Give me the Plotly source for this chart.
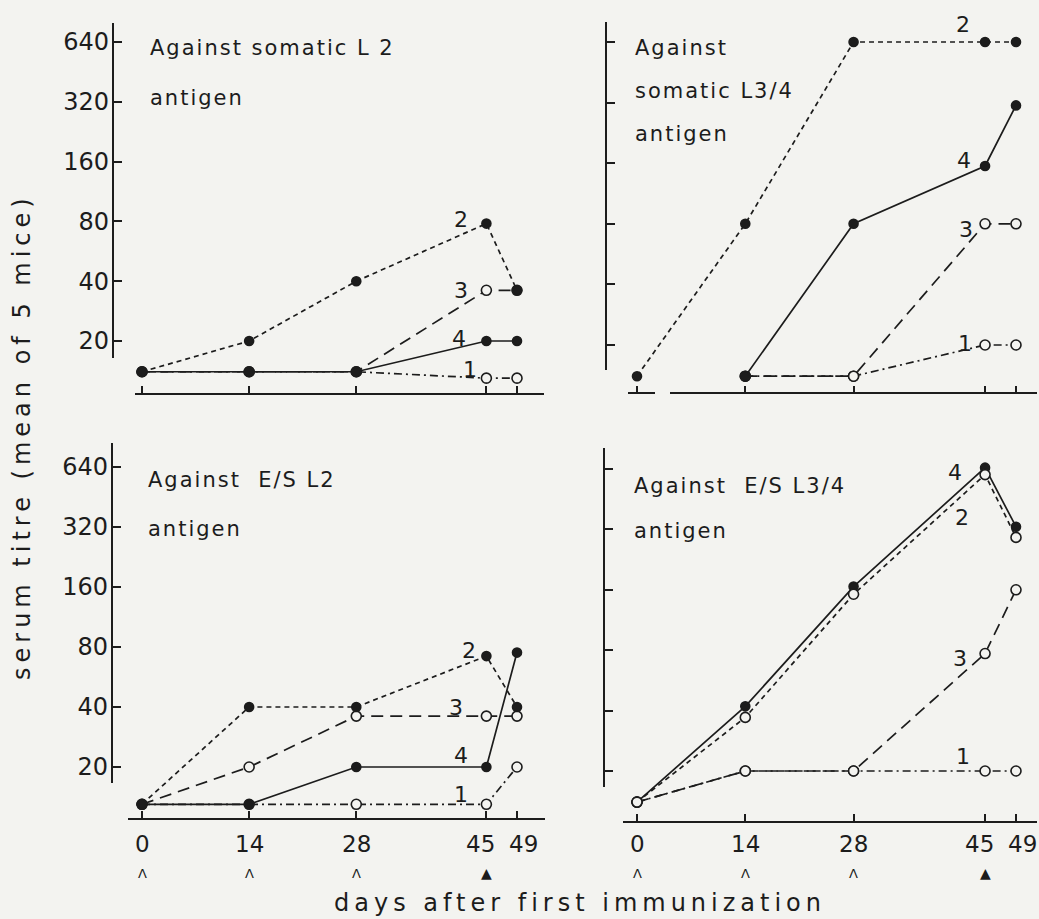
import math
import plotly.graph_objects as go

W, H = 1039, 919
BG = "#f3f3f0"
INK = "#1c1c1c"
FONT = "DejaVu Sans"

# ---------------- data ----------------
days = [0, 14, 28, 45, 49]
day_labels = ["0", "14", "28", "45", "49"]
ytick_vals = [20, 40, 80, 160, 320, 640]
ytick_text = ["20", "40", "80", "160", "320", "640"]
series_names = ["1", "2", "3", "4"]

# Against somatic L2 antigen
som_L2_s1 = [14, 14, 14, 13, 13]
som_L2_s2 = [14, 20, 40, 78, 36]
som_L2_s3 = [14, 14, 14, 36, 36]
som_L2_s4 = [14, 14, 14, 20, 20]

# Against somatic L3/4 antigen
som_L34_s1 = [None, 14, 14, 20, 20]
som_L34_s2 = [14, 80, 640, 640, 640]
som_L34_s3 = [None, 14, 14, 80, 80]
som_L34_s4 = [None, 14, 80, 155, 310]

# Against E/S L2 antigen
es_L2_s1 = [13, 13, 13, 13, 20]
es_L2_s2 = [13, 40, 40, 72, 40]
es_L2_s3 = [13, 20, 36, 36, 36]
es_L2_s4 = [13, 13, 20, 20, 75]

# Against E/S L3/4 antigen
es_L34_s1 = [14, 20, 20, 20, 20]
es_L34_s2 = [14, 37, 152, 600, 292]
es_L34_s3 = [14, 20, 20, 77, 160]
es_L34_s4 = [14, 42, 166, 650, 330]

immunization_days = [0, 14, 28]
challenge_days = [45]

title_som_L2 = ["Against somatic L 2", "antigen"]
title_som_L34 = ["Against", "somatic L3/4", "antigen"]
title_es_L2 = ["Against\u00a0\u00a0E/S L2", "antigen"]
title_es_L34 = ["Against\u00a0\u00a0E/S L3/4", "antigen"]

y_title = "serum titre (mean of 5 mice)"
x_title = "days after first immunization"

# small horizontal nudges (px) of the day labels so that "45" and "49" stay apart
day_label_shift = [0, 0, 0, -6, 6]


def spaced(text, px_):
    return "<span style='letter-spacing:%dpx'>%s</span>" % (px_, text)


# ---------------- geometry helpers (pixels -> paper) ----------------
def px(x):
    return x / W


def py(y):
    return 1 - y / H


def yrange(top, bot, p640, p20):
    k = (math.log10(640) - math.log10(20)) / (p20 - p640)
    return [math.log10(20) - (bot - p20) * k, math.log10(20) + (p20 - top) * k]


def xrange_(d0, d1, p0, p49):
    s = (p49 - p0) / 49.0
    return [-(p0 - d0) / s, 49 + (d1 - p49) / s]


panels = [
    dict(key="", series=[som_L2_s1, som_L2_s2, som_L2_s3, som_L2_s4],
         xdom=(135, 544), p0=142, p49=517, ydom=(23, 393), p640=42, p20=341,
         yline_x=113, yline=(23, 358), xlabels=False, yticklabels=True,
         title=title_som_L2, title_xy=(148, 48), title_dy=50,
         open2=False, xline_segments=None,
         labels=[(3, 1, -25, 4), (3, 2, -25, 0), (3, 3, -27, 3), (3, 0, -16, 9)]),
    dict(key="2", series=[som_L34_s1, som_L34_s2, som_L34_s3, som_L34_s4],
         xdom=(625, 1037), p0=637, p49=1016, ydom=(22, 393), p640=42, p20=345,
         yline_x=606, yline=(22, 370), xlabels=False, yticklabels=False,
         title=title_som_L34, title_xy=(633, 48), title_dy=43,
         open2=False, xline_segments=[(628, 655), (670, 1037)],
         labels=[(3, 1, -22, 18), (3, 3, -21, 5), (3, 2, -19, -6), (3, 0, -20, 2)]),
    dict(key="3", series=[es_L2_s1, es_L2_s2, es_L2_s3, es_L2_s4],
         xdom=(128, 545), p0=142, p49=517, ydom=(443, 818), p640=467, p20=767,
         yline_x=112, yline=(443, 783), xlabels=True, yticklabels=True,
         title=title_es_L2, title_xy=(146, 480), title_dy=49,
         open2=False, xline_segments=None,
         labels=[(3, 1, -17, 6), (3, 2, -30, 9), (3, 3, -25, 12), (3, 0, -25, 10)]),
    dict(key="4", series=[es_L34_s1, es_L34_s2, es_L34_s3, es_L34_s4],
         xdom=(623, 1037), p0=637, p49=1016, ydom=(448, 821), p640=469, p20=771,
         yline_x=604, yline=(448, 787), xlabels=True, yticklabels=False,
         title=title_es_L34, title_xy=(632, 486), title_dy=45,
         open2=True, xline_segments=None,
         labels=[(3, 3, -30, -5), (3, 1, -23, -43), (3, 2, -25, -5), (3, 0, -22, 15)]),
]

# series styles: 1 dash-dot open, 2 short dash filled, 3 long dash open, 4 solid filled
dash_styles = ["8px,4px,2px,4px", "5px,4px", "12px,7px", "solid"]
filled = [False, True, False, True]

fig = go.Figure()
layout = dict(
    width=W, height=H, margin=dict(l=0, r=0, t=0, b=0),
    paper_bgcolor=BG, plot_bgcolor=BG, showlegend=False,
    font=dict(family=FONT, color=INK),
)
annotations = []
shapes = []

for pnl in panels:
    k = pnl["key"]
    xa, ya = "x" + k, "y" + k
    xname, yname = "xaxis" + k, "yaxis" + k
    for si in [0, 2, 3, 1]:
        vals = pnl["series"][si]
        is_filled = filled[si] and not (si == 1 and pnl["open2"])
        fig.add_trace(go.Scatter(
            x=days, y=vals, xaxis=xa, yaxis=ya, mode="lines+markers",
            name=series_names[si], cliponaxis=False, connectgaps=False,
            line=dict(color=INK, width=1.7, dash=dash_styles[si]),
            marker=dict(size=9 if is_filled else 10, symbol="circle",
                        color=INK if is_filled else BG,
                        line=dict(color=INK, width=1.6)),
        ))
    xr = xrange_(pnl["xdom"][0], pnl["xdom"][1], pnl["p0"], pnl["p49"])
    yr = yrange(pnl["ydom"][0], pnl["ydom"][1], pnl["p640"], pnl["p20"])
    layout[xname] = dict(
        domain=[px(pnl["xdom"][0]), px(pnl["xdom"][1])], range=xr,
        anchor=ya, showgrid=False, zeroline=False,
        showline=pnl["xline_segments"] is None, linecolor=INK, linewidth=2,
        tickmode="array", tickvals=days, ticktext=day_labels,
        ticks="inside", ticklen=7, tickwidth=1.5, tickcolor=INK,
        showticklabels=False,
    )
    layout[yname] = dict(
        domain=[py(pnl["ydom"][1]), py(pnl["ydom"][0])], range=yr, type="log",
        anchor="free", position=px(pnl["yline_x"]),
        showgrid=False, zeroline=False, showline=False,
        tickmode="array", tickvals=ytick_vals, ticktext=ytick_text,
        ticks="inside", ticklen=8, tickwidth=1.5, tickcolor=INK,
        showticklabels=pnl["yticklabels"], ticklabelstandoff=4,
        tickfont=dict(family=FONT, size=24, color=INK),
    )
    shapes.append(dict(type="line", xref="paper", yref="paper",
                       x0=px(pnl["yline_x"]), x1=px(pnl["yline_x"]),
                       y0=py(pnl["yline"][0]), y1=py(pnl["yline"][1]),
                       line=dict(color=INK, width=2)))
    if pnl["xline_segments"]:
        for a, b in pnl["xline_segments"]:
            shapes.append(dict(type="line", xref="paper", yref="paper",
                               x0=px(a), x1=px(b), y0=py(pnl["ydom"][1]), y1=py(pnl["ydom"][1]),
                               line=dict(color=INK, width=2)))
    tx, ty = pnl["title_xy"]
    for i, line in enumerate(pnl["title"]):
        annotations.append(dict(xref="paper", yref="paper", x=px(tx), y=py(ty + i * pnl["title_dy"]),
                                xanchor="left", yanchor="middle", showarrow=False,
                                text=spaced(line, 2),
                                font=dict(family=FONT, size=21, color=INK)))
    for (di, si, dx, dy) in pnl["labels"]:
        annotations.append(dict(xref=xa, yref=ya, x=days[di],
                                y=math.log10(pnl["series"][si][di]),
                                xshift=dx, yshift=dy, showarrow=False, text=series_names[si],
                                font=dict(family=FONT, size=22, color=INK)))
    if pnl["xlabels"]:
        for d, lab, sh in zip(days, day_labels, day_label_shift):
            annotations.append(dict(xref=xa, yref="paper", x=d, y=py(844), xshift=sh,
                                    xanchor="center", yanchor="middle", showarrow=False,
                                    text=lab, font=dict(family=FONT, size=23, color=INK)))
        for d in immunization_days:
            annotations.append(dict(xref=xa, yref="paper", x=d, y=py(873), yanchor="middle",
                                    showarrow=False, text="\u039B",
                                    font=dict(family=FONT, size=13, color=INK)))
        for d in challenge_days:
            annotations.append(dict(xref=xa, yref="paper", x=d, y=py(873), yanchor="middle",
                                    showarrow=False, text="\u25B2",
                                    font=dict(family=FONT, size=14, color=INK)))

annotations.append(dict(xref="paper", yref="paper", x=px(22), y=py(437), textangle=-90,
                        xanchor="center", yanchor="middle",
                        showarrow=False, text=spaced(y_title, 5),
                        font=dict(family=FONT, size=24, color=INK)))
annotations.append(dict(xref="paper", yref="paper", x=px(580), y=py(903),
                        xanchor="center", yanchor="middle",
                        showarrow=False, text=spaced(x_title, 5),
                        font=dict(family=FONT, size=24, color=INK)))

layout["annotations"] = annotations
layout["shapes"] = shapes
fig.update_layout(**layout)
fig.write_html(
    "out.html",
    config={"displayModeBar": False},
    post_script="document.body.style.margin='0';document.body.style.background='%s';" % BG,
)
